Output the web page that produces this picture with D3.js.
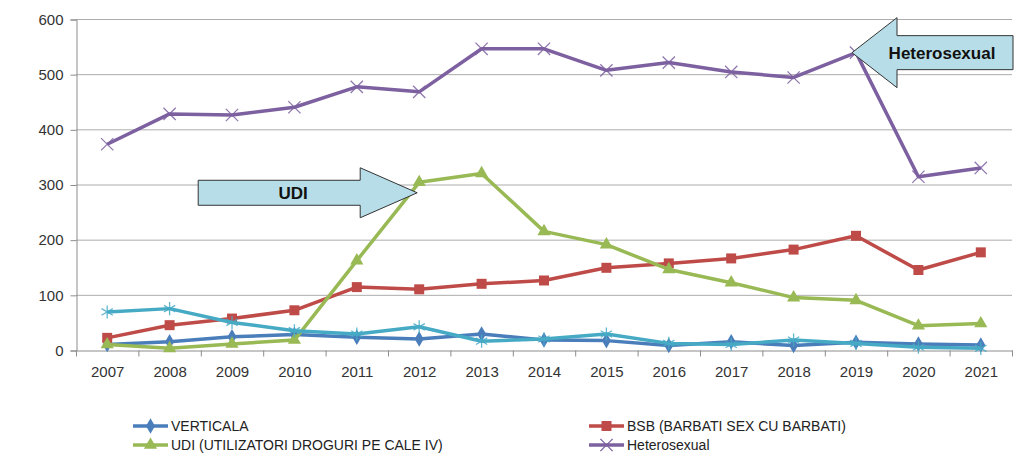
<!DOCTYPE html>
<html>
<head>
<meta charset="utf-8">
<script src="https://cdn.jsdelivr.net/npm/d3@7.9.0/dist/d3.min.js"></script>
<style>
  body { margin: 0; background: #fff; }
  svg { display: block; }
</style>
</head>
<body>
<svg id="chart" width="1024" height="458"></svg>
<script>
const years = ['2007', '2008', '2009', '2010', '2011', '2012', '2013', '2014',
  '2015', '2016', '2017', '2018', '2019', '2020', '2021'];
const yTicks = [0, 100, 200, 300, 400, 500, 600];

const verticala = [10, 15, 24, 28, 23, 20, 29, 18, 17, 8, 15, 8, 14, 11, 9];
const bsb = [22, 45, 57, 72, 114, 110, 120, 126, 149, 157, 166, 182, 207, 145, 177];
const udi = [10, 3, 11, 18, 162, 304, 320, 215, 191, 146, 122, 95, 90, 44, 48];
const hetero = [373, 428, 426, 440, 477, 468, 546, 546, 507, 521, 504, 494, 539, 314, 330];
// fifth series drawn in the chart but missing from its legend
const other = [69, 75, 50, 35, 29, 42, 16, 20, 29, 12, 10, 18, 12, 5, 3];

const series = [
  { name: 'VERTICALA', values: verticala, color: '#4A7EBB', symbol: d3.symbolDiamond, size: 70, filled: true },
  { name: 'BSB (BARBATI SEX CU BARBATI)', values: bsb, color: '#BE4B48', symbol: d3.symbolSquare, size: 100, filled: true },
  { name: 'UDI (UTILIZATORI DROGURI PE CALE IV)', values: udi, color: '#98B954', symbol: d3.symbolTriangle, size: 75, filled: true },
  { name: 'Heterosexual', values: hetero, color: '#7D60A0', symbol: d3.symbolTimes, size: 100, filled: false },
  { name: null, values: other, color: '#46AAC5', symbol: d3.symbolAsterisk, size: 120, filled: false },
];

const svg = d3.select('#chart');

const x = d3.scaleBand().domain(years).range([76, 1012]);
const y = d3.scaleLinear().domain([0, 600]).range([350, 19]);
const cx = (d) => x(d) + x.bandwidth() / 2;

const font = '"Liberation Sans", Arial, sans-serif';

// gridlines
svg.append('g')
  .selectAll('line')
  .data(yTicks.filter((d) => d > 0))
  .join('line')
  .attr('x1', 76)
  .attr('x2', 1012)
  .attr('y1', (d) => y(d) + 0.5)
  .attr('y2', (d) => y(d) + 0.5)
  .attr('stroke', '#ACACAC')
  .attr('stroke-width', 1);

// y axis
const yAxis = svg.append('g')
  .attr('transform', 'translate(76.5,0.5)')
  .call(d3.axisLeft(y).tickValues(yTicks).tickSize(6).tickPadding(7));
yAxis.select('.domain').attr('stroke', '#8C8C8C');
yAxis.selectAll('.tick line').attr('stroke', '#8C8C8C');
yAxis.selectAll('text')
  .attr('font-family', font)
  .attr('font-size', 15)
  .attr('fill', '#333');

// x axis
const xAxis = svg.append('g')
  .attr('transform', `translate(0.5,${y(0) + 0.5})`)
  .call(d3.axisBottom(x).tickSize(0).tickPadding(16));
xAxis.select('.domain').attr('stroke', '#8C8C8C');
xAxis.selectAll('text')
  .attr('font-family', font)
  .attr('font-size', 15)
  .attr('fill', '#333');
xAxis.selectAll('.tickmark')
  .data(years.concat(['end']))
  .join('line')
  .attr('x1', (d, i) => x.range()[0] + i * x.bandwidth())
  .attr('x2', (d, i) => x.range()[0] + i * x.bandwidth())
  .attr('y1', 0)
  .attr('y2', 6)
  .attr('stroke', '#8C8C8C');

// series
const line = d3.line()
  .x((d, i) => cx(years[i]))
  .y((d) => y(d));

series.forEach((s) => {
  const g = svg.append('g');
  g.append('path')
    .datum(s.values)
    .attr('d', line)
    .attr('fill', 'none')
    .attr('stroke', s.color)
    .attr('stroke-width', 3.5)
    .attr('stroke-linejoin', 'round');
  g.selectAll('path.mark')
    .data(s.values)
    .join('path')
    .attr('class', 'mark')
    .attr('transform', (d, i) => `translate(${cx(years[i])},${y(d)})`)
    .attr('d', d3.symbol(s.symbol, s.size))
    .attr('fill', s.filled ? s.color : 'none')
    .attr('stroke', s.color)
    .attr('stroke-width', s.filled ? 0 : 1.3)
    .attr('opacity', s.filled ? 1 : 0.85);
});

// arrow callouts
function arrow(tipX, tipY, dir, headLen, headHalf, bodyHalf, bodyEnd) {
  const b = tipX + dir * headLen;
  const pts = [
    [tipX, tipY],
    [b, tipY - headHalf],
    [b, tipY - bodyHalf],
    [bodyEnd, tipY - bodyHalf],
    [bodyEnd, tipY + bodyHalf],
    [b, tipY + bodyHalf],
    [b, tipY + headHalf],
  ];
  svg.append('polygon')
    .attr('points', pts.map((p) => p.join(',')).join(' '))
    .attr('fill', '#B7DEE8')
    .attr('stroke', '#333')
    .attr('stroke-width', 1);
}

const udiTipX = cx('2012') - 2;
const udiTipY = y(285);
arrow(udiTipX, udiTipY, -1, 57, 25, 12.5, udiTipX - 219);
svg.append('text')
  .attr('x', udiTipX - 124)
  .attr('y', udiTipY + 6)
  .attr('text-anchor', 'middle')
  .attr('font-family', font)
  .attr('font-weight', 'bold')
  .attr('font-size', 17)
  .attr('fill', '#111')
  .text('UDI');

const hetTipX = cx('2019') - 4;
const hetTipY = y(539);
arrow(hetTipX, hetTipY, 1, 45, 35, 17, 1013);
svg.append('text')
  .attr('x', hetTipX + 90)
  .attr('y', hetTipY + 6)
  .attr('text-anchor', 'middle')
  .attr('font-family', font)
  .attr('font-weight', 'bold')
  .attr('font-size', 17)
  .attr('fill', '#111')
  .text('Heterosexual');

// legend
const legendPos = [[133, 426], [589, 426], [133, 445], [589, 445]];
const legend = svg.append('g');
series.filter((s) => s.name).forEach((s, i) => {
  const [lx, ly] = legendPos[i];
  const g = legend.append('g').attr('transform', `translate(${lx},${ly})`);
  g.append('line')
    .attr('x1', 0).attr('x2', 35)
    .attr('stroke', s.color)
    .attr('stroke-width', 3.5);
  g.append('path')
    .attr('transform', 'translate(17.5,0)')
    .attr('d', d3.symbol(s.symbol, s.size))
    .attr('fill', s.filled ? s.color : 'none')
    .attr('stroke', s.color)
    .attr('stroke-width', s.filled ? 0 : 1.3);
  g.append('text')
    .attr('x', 38)
    .attr('y', 5)
    .attr('font-family', font)
    .attr('font-size', 14)
    .attr('fill', '#222')
    .text(s.name);
});
</script>
</body>
</html>
